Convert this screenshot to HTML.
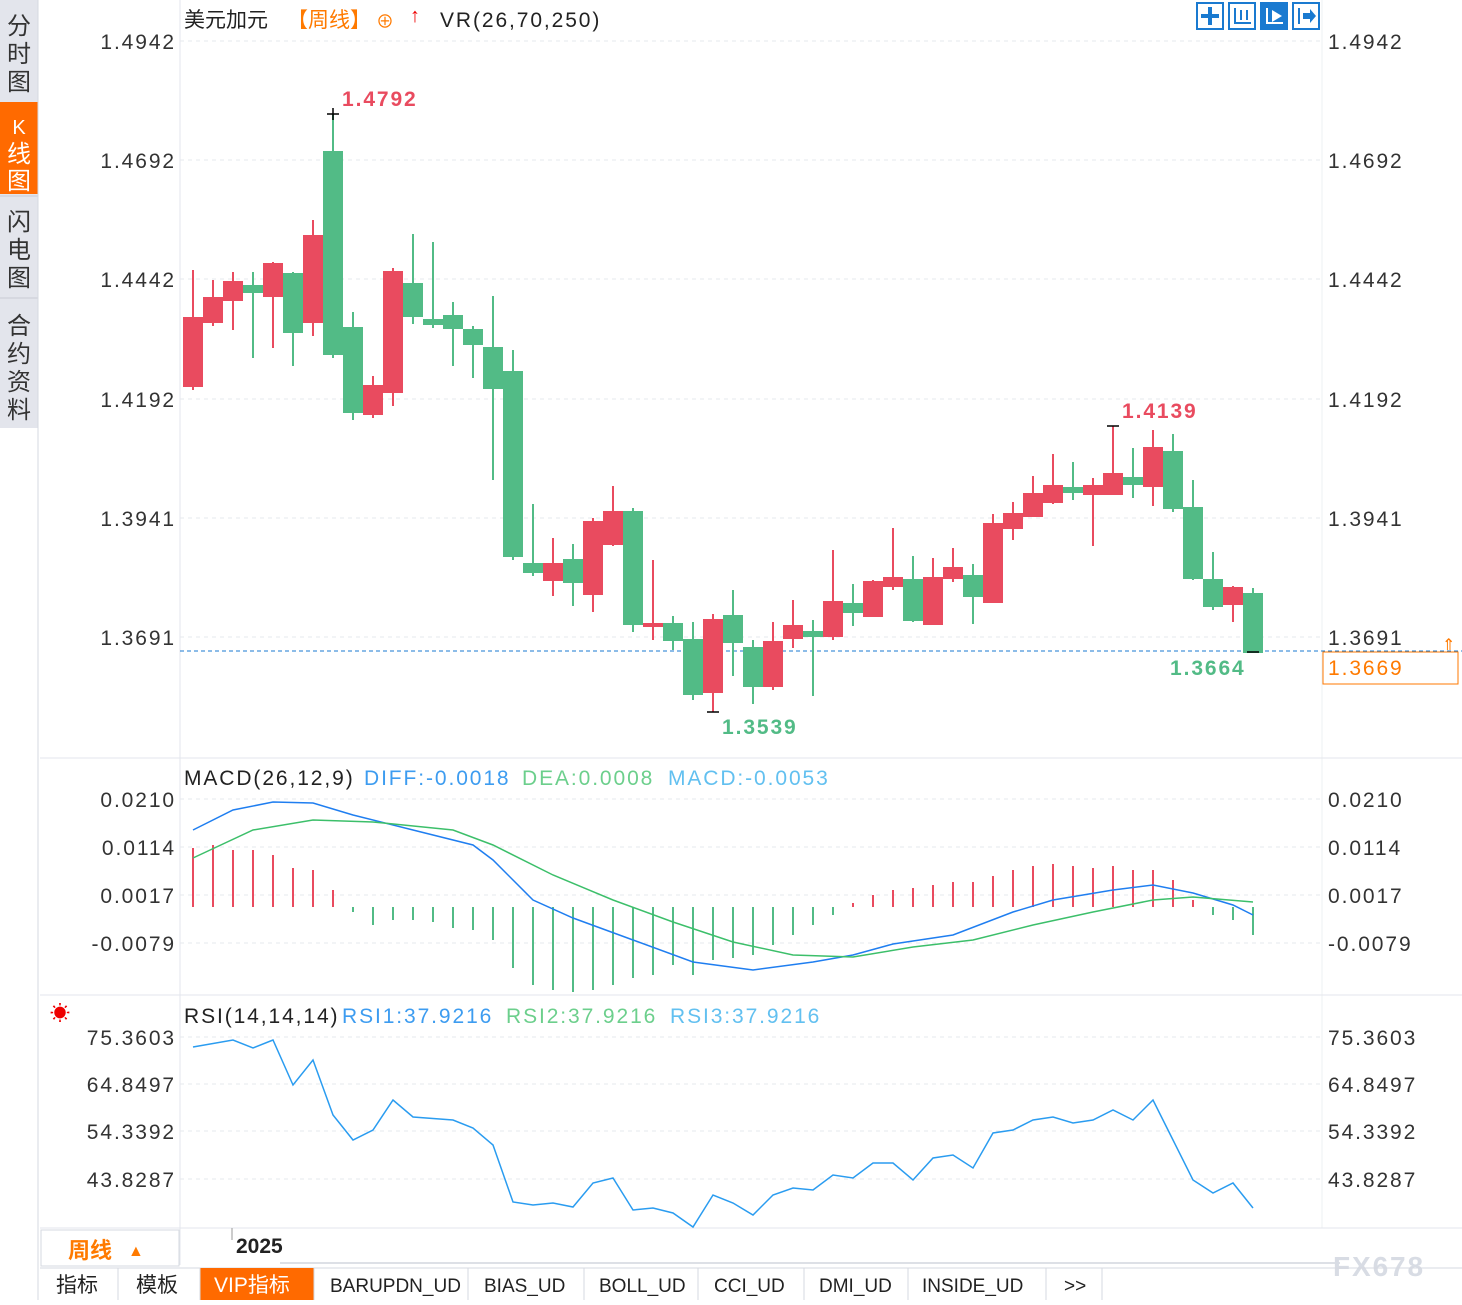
<!DOCTYPE html><html><head><meta charset="utf-8"><style>
body{margin:0;width:1462px;height:1300px;overflow:hidden;background:#fff;font-family:"Liberation Sans","Noto Sans CJK SC",sans-serif}
svg text{font-family:"Liberation Sans","Noto Sans CJK SC",sans-serif}
.ls{letter-spacing:1.9px}
</style></head><body>
<svg width="1462" height="1300" xmlns="http://www.w3.org/2000/svg">
<rect x="0" y="0" width="38" height="1300" fill="#fff"/>
<rect x="0" y="0" width="38" height="428" fill="#e3e5ec"/>
<rect x="0" y="102" width="38" height="92" fill="#ff6a00"/>
<line x1="0" y1="196" x2="38" y2="196" stroke="#c9ccd4"/><line x1="0" y1="298" x2="38" y2="298" stroke="#c9ccd4"/>
<line x1="38" y1="0" x2="38" y2="1300" stroke="#d6d9e0"/>
<g font-size="24" fill="#333" text-anchor="middle">
<text x="19" y="34">分</text><text x="19" y="62">时</text><text x="19" y="90">图</text>
<text x="19" y="134" fill="#fff" font-size="20">K</text><text x="19" y="162" fill="#fff">线</text><text x="19" y="189" fill="#fff">图</text>
<text x="19" y="230">闪</text><text x="19" y="258">电</text><text x="19" y="286">图</text>
<text x="19" y="334">合</text><text x="19" y="362">约</text><text x="19" y="390">资</text><text x="19" y="418">料</text>
</g>
<line x1="180" y1="0" x2="180" y2="1265" stroke="#e3e6ec"/>
<line x1="1322" y1="0" x2="1322" y2="1228" stroke="#eef0f3"/>
<line x1="40" y1="758" x2="1462" y2="758" stroke="#e3e6ec"/>
<line x1="40" y1="995" x2="1462" y2="995" stroke="#e3e6ec"/>
<line x1="40" y1="1228" x2="1462" y2="1228" stroke="#e3e6ec"/>
<g stroke="#e6e8ec" stroke-dasharray="4,4">
<line x1="180" y1="41" x2="1322" y2="41"/><line x1="180" y1="160" x2="1322" y2="160"/><line x1="180" y1="279" x2="1322" y2="279"/><line x1="180" y1="399" x2="1322" y2="399"/><line x1="180" y1="518" x2="1322" y2="518"/><line x1="180" y1="637" x2="1322" y2="637"/>
<line x1="180" y1="799" x2="1322" y2="799"/><line x1="180" y1="847" x2="1322" y2="847"/><line x1="180" y1="895" x2="1322" y2="895"/><line x1="180" y1="943" x2="1322" y2="943"/>
<line x1="180" y1="1037" x2="1322" y2="1037"/><line x1="180" y1="1084" x2="1322" y2="1084"/><line x1="180" y1="1131" x2="1322" y2="1131"/><line x1="180" y1="1179" x2="1322" y2="1179"/>
</g>
<text x="184" y="27" font-size="21" fill="#222">美元加元</text>
<text x="287" y="27" font-size="21" fill="#ff7a00">【周线】</text>
<text x="376" y="28" font-size="18" fill="#ff7a00">⊕</text>
<text x="410" y="22" font-size="20" fill="#e00" font-weight="bold">↑</text>
<text x="440" y="27" font-size="21" fill="#222" class="ls">VR(26,70,250)</text>
<g fill="#fff" stroke="#1a7ad0" stroke-width="2">
<rect x="1197" y="3" width="26" height="26"/><rect x="1229" y="3" width="26" height="26"/><rect x="1261" y="3" width="26" height="26" fill="#1a7ad0"/><rect x="1293" y="3" width="26" height="26"/>
</g>
<g fill="#1a7ad0"><rect x="1201" y="14" width="18" height="4"/><rect x="1208" y="7" width="4" height="18"/>
<rect x="1234" y="8" width="2" height="16"/><rect x="1234" y="22" width="17" height="2"/><rect x="1240" y="10" width="2" height="10"/><rect x="1246" y="10" width="2" height="10"/>
<rect x="1298" y="8" width="2" height="16"/><polygon points="1303,13 1310,13 1310,9 1316,16 1310,23 1310,19 1303,19"/></g>
<g fill="#fff"><rect x="1266" y="8" width="2" height="16"/><rect x="1266" y="22" width="17" height="2"/><polygon points="1272,10 1282,16 1272,22"/></g>
<g font-size="21" fill="#333" text-anchor="end" class="ls">
<text x="176" y="49">1.4942</text><text x="176" y="168">1.4692</text><text x="176" y="287">1.4442</text><text x="176" y="407">1.4192</text><text x="176" y="526">1.3941</text><text x="176" y="645">1.3691</text>
<text x="176" y="807">0.0210</text><text x="176" y="855">0.0114</text><text x="176" y="903">0.0017</text><text x="176" y="951">-0.0079</text>
<text x="176" y="1045">75.3603</text><text x="176" y="1092">64.8497</text><text x="176" y="1139">54.3392</text><text x="176" y="1187">43.8287</text>
</g>
<g font-size="21" fill="#333" class="ls">
<text x="1328" y="49">1.4942</text><text x="1328" y="168">1.4692</text><text x="1328" y="287">1.4442</text><text x="1328" y="407">1.4192</text><text x="1328" y="526">1.3941</text><text x="1328" y="645">1.3691</text>
<text x="1328" y="807">0.0210</text><text x="1328" y="855">0.0114</text><text x="1328" y="903">0.0017</text><text x="1328" y="951">-0.0079</text>
<text x="1328" y="1045">75.3603</text><text x="1328" y="1092">64.8497</text><text x="1328" y="1139">54.3392</text><text x="1328" y="1187">43.8287</text>
</g>
<line x1="180" y1="651" x2="1462" y2="651" stroke="#1a7ad0" stroke-dasharray="4,3"/>
<rect x="1323" y="652" width="135" height="32" fill="#fff" stroke="#ff7a00"/>
<text x="1328" y="675" font-size="21" fill="#ff7a00" class="ls">1.3669</text>
<text x="1442" y="650" font-size="16" fill="#ff7a00">⇑</text>
<g stroke-width="2">
<g stroke="#e94b5f" fill="#e94b5f">
<line x1="193" y1="270" x2="193" y2="390"/><rect x="184" y="318" width="18" height="68"/>
<line x1="213" y1="280" x2="213" y2="326"/><rect x="204" y="298" width="18" height="24"/>
<line x1="233" y1="272" x2="233" y2="330"/><rect x="224" y="282" width="18" height="18"/>
<line x1="273" y1="262" x2="273" y2="348"/><rect x="264" y="264" width="18" height="32"/>
<line x1="313" y1="220" x2="313" y2="336"/><rect x="304" y="236" width="18" height="86"/>
<line x1="373" y1="376" x2="373" y2="418"/><rect x="364" y="386" width="18" height="28"/>
<line x1="393" y1="268" x2="393" y2="406"/><rect x="384" y="272" width="18" height="120"/>
<line x1="553" y1="538" x2="553" y2="596"/><rect x="544" y="564" width="18" height="16"/>
<line x1="593" y1="518" x2="593" y2="612"/><rect x="584" y="522" width="18" height="72"/>
<line x1="613" y1="486" x2="613" y2="546"/><rect x="604" y="512" width="18" height="32"/>
<line x1="653" y1="560" x2="653" y2="640"/><rect x="644" y="624" width="18" height="2"/>
<line x1="713" y1="614" x2="713" y2="712"/><rect x="704" y="620" width="18" height="72"/>
<line x1="773" y1="622" x2="773" y2="690"/><rect x="764" y="642" width="18" height="44"/>
<line x1="793" y1="600" x2="793" y2="648"/><rect x="784" y="626" width="18" height="12"/>
<line x1="833" y1="550" x2="833" y2="640"/><rect x="824" y="602" width="18" height="34"/>
<line x1="873" y1="580" x2="873" y2="616"/><rect x="864" y="582" width="18" height="34"/>
<line x1="893" y1="528" x2="893" y2="590"/><rect x="884" y="578" width="18" height="8"/>
<line x1="933" y1="558" x2="933" y2="624"/><rect x="924" y="578" width="18" height="46"/>
<line x1="953" y1="548" x2="953" y2="582"/><rect x="944" y="568" width="18" height="10"/>
<line x1="993" y1="514" x2="993" y2="602"/><rect x="984" y="524" width="18" height="78"/>
<line x1="1013" y1="502" x2="1013" y2="540"/><rect x="1004" y="514" width="18" height="14"/>
<line x1="1033" y1="476" x2="1033" y2="516"/><rect x="1024" y="494" width="18" height="22"/>
<line x1="1053" y1="454" x2="1053" y2="504"/><rect x="1044" y="486" width="18" height="16"/>
<line x1="1093" y1="478" x2="1093" y2="546"/><rect x="1084" y="486" width="18" height="8"/>
<line x1="1113" y1="426" x2="1113" y2="494"/><rect x="1104" y="474" width="18" height="20"/>
<line x1="1153" y1="430" x2="1153" y2="506"/><rect x="1144" y="448" width="18" height="38"/>
<line x1="1233" y1="586" x2="1233" y2="622"/><rect x="1224" y="588" width="18" height="16"/>
</g>
<g stroke="#52bb86" fill="#52bb86">
<line x1="253" y1="272" x2="253" y2="358"/><rect x="244" y="286" width="18" height="6"/>
<line x1="293" y1="272" x2="293" y2="366"/><rect x="284" y="274" width="18" height="58"/>
<line x1="333" y1="114" x2="333" y2="358"/><rect x="324" y="152" width="18" height="202"/>
<line x1="353" y1="312" x2="353" y2="420"/><rect x="344" y="328" width="18" height="84"/>
<line x1="413" y1="234" x2="413" y2="324"/><rect x="404" y="284" width="18" height="32"/>
<line x1="433" y1="242" x2="433" y2="328"/><rect x="424" y="320" width="18" height="4"/>
<line x1="453" y1="302" x2="453" y2="366"/><rect x="444" y="316" width="18" height="12"/>
<line x1="473" y1="326" x2="473" y2="378"/><rect x="464" y="330" width="18" height="14"/>
<line x1="493" y1="296" x2="493" y2="480"/><rect x="484" y="348" width="18" height="40"/>
<line x1="513" y1="350" x2="513" y2="560"/><rect x="504" y="372" width="18" height="184"/>
<line x1="533" y1="504" x2="533" y2="576"/><rect x="524" y="564" width="18" height="8"/>
<line x1="573" y1="544" x2="573" y2="606"/><rect x="564" y="560" width="18" height="22"/>
<line x1="633" y1="508" x2="633" y2="632"/><rect x="624" y="512" width="18" height="112"/>
<line x1="673" y1="616" x2="673" y2="650"/><rect x="664" y="624" width="18" height="16"/>
<line x1="693" y1="622" x2="693" y2="700"/><rect x="684" y="640" width="18" height="54"/>
<line x1="733" y1="590" x2="733" y2="676"/><rect x="724" y="616" width="18" height="26"/>
<line x1="753" y1="640" x2="753" y2="704"/><rect x="744" y="648" width="18" height="38"/>
<line x1="813" y1="620" x2="813" y2="696"/><rect x="804" y="632" width="18" height="4"/>
<line x1="853" y1="584" x2="853" y2="626"/><rect x="844" y="604" width="18" height="8"/>
<line x1="913" y1="556" x2="913" y2="622"/><rect x="904" y="580" width="18" height="40"/>
<line x1="973" y1="564" x2="973" y2="624"/><rect x="964" y="576" width="18" height="20"/>
<line x1="1073" y1="462" x2="1073" y2="500"/><rect x="1064" y="488" width="18" height="4"/>
<line x1="1133" y1="448" x2="1133" y2="498"/><rect x="1124" y="478" width="18" height="6"/>
<line x1="1173" y1="434" x2="1173" y2="512"/><rect x="1164" y="452" width="18" height="56"/>
<line x1="1193" y1="480" x2="1193" y2="580"/><rect x="1184" y="508" width="18" height="70"/>
<line x1="1213" y1="552" x2="1213" y2="610"/><rect x="1204" y="580" width="18" height="26"/>
<line x1="1253" y1="588" x2="1253" y2="652"/><rect x="1244" y="594" width="18" height="58"/>
</g>
</g>
<g stroke="#000" stroke-width="1.5"><line x1="327" y1="114" x2="339" y2="114"/><line x1="333" y1="108" x2="333" y2="120"/><line x1="707" y1="712" x2="719" y2="712"/><line x1="1107" y1="426" x2="1119" y2="426"/><line x1="1247" y1="652" x2="1259" y2="652"/></g>
<g font-size="21" font-weight="bold" class="ls">
<text x="342" y="106" fill="#e94b5f">1.4792</text>
<text x="1122" y="418" fill="#e94b5f">1.4139</text>
<text x="722" y="734" fill="#52bb86">1.3539</text>
<text x="1170" y="675" fill="#52bb86">1.3664</text>
</g>
<g font-size="21" class="ls">
<text x="184" y="785" fill="#222">MACD(26,12,9)</text>
<text x="364" y="785" fill="#3d9cf0">DIFF:-0.0018</text>
<text x="522" y="785" fill="#6ccf8c">DEA:0.0008</text>
<text x="668" y="785" fill="#62c0f0">MACD:-0.0053</text>
</g>
<g stroke-width="2">
<g stroke="#e94b5f">
<line x1="193" y1="907" x2="193" y2="848"/><line x1="213" y1="907" x2="213" y2="845"/><line x1="233" y1="907" x2="233" y2="850"/><line x1="253" y1="907" x2="253" y2="850"/><line x1="273" y1="907" x2="273" y2="855"/><line x1="293" y1="907" x2="293" y2="868"/><line x1="313" y1="907" x2="313" y2="870"/><line x1="333" y1="907" x2="333" y2="890"/>
<line x1="873" y1="907" x2="873" y2="895"/><line x1="893" y1="907" x2="893" y2="890"/><line x1="913" y1="907" x2="913" y2="888"/><line x1="933" y1="907" x2="933" y2="885"/><line x1="953" y1="907" x2="953" y2="882"/><line x1="973" y1="907" x2="973" y2="882"/><line x1="993" y1="907" x2="993" y2="876"/><line x1="1013" y1="907" x2="1013" y2="870"/><line x1="1033" y1="907" x2="1033" y2="866"/><line x1="1053" y1="907" x2="1053" y2="864"/><line x1="1073" y1="907" x2="1073" y2="866"/><line x1="1093" y1="907" x2="1093" y2="868"/><line x1="1113" y1="907" x2="1113" y2="866"/><line x1="1133" y1="907" x2="1133" y2="870"/><line x1="1153" y1="907" x2="1153" y2="870"/><line x1="1173" y1="907" x2="1173" y2="880"/><line x1="1193" y1="907" x2="1193" y2="900"/><line x1="853" y1="907" x2="853" y2="903"/>
</g>
<g stroke="#52bb86">
<line x1="353" y1="907" x2="353" y2="912"/><line x1="373" y1="907" x2="373" y2="925"/><line x1="393" y1="907" x2="393" y2="920"/><line x1="413" y1="907" x2="413" y2="920"/><line x1="433" y1="907" x2="433" y2="922"/><line x1="453" y1="907" x2="453" y2="928"/><line x1="473" y1="907" x2="473" y2="930"/><line x1="493" y1="907" x2="493" y2="940"/><line x1="513" y1="907" x2="513" y2="968"/><line x1="533" y1="907" x2="533" y2="985"/><line x1="553" y1="907" x2="553" y2="990"/><line x1="573" y1="907" x2="573" y2="992"/><line x1="593" y1="907" x2="593" y2="990"/><line x1="613" y1="907" x2="613" y2="985"/><line x1="633" y1="907" x2="633" y2="978"/><line x1="653" y1="907" x2="653" y2="975"/><line x1="673" y1="907" x2="673" y2="965"/><line x1="693" y1="907" x2="693" y2="975"/><line x1="713" y1="907" x2="713" y2="960"/><line x1="733" y1="907" x2="733" y2="958"/><line x1="753" y1="907" x2="753" y2="955"/><line x1="773" y1="907" x2="773" y2="945"/><line x1="793" y1="907" x2="793" y2="935"/><line x1="813" y1="907" x2="813" y2="925"/><line x1="833" y1="907" x2="833" y2="915"/><line x1="1213" y1="907" x2="1213" y2="915"/><line x1="1233" y1="907" x2="1233" y2="920"/><line x1="1253" y1="907" x2="1253" y2="935"/>
</g>
</g>
<polyline fill="none" stroke="#1f7ef0" stroke-width="1.5" points="193,830 233,810 273,802 313,803 353,815 413,830 473,845 493,860 533,900 573,918 633,940 693,962 753,970 813,962 853,955 893,944 953,935 1013,912 1053,900 1113,890 1153,885 1193,893 1233,905 1253,915"/>
<polyline fill="none" stroke="#3cbf6a" stroke-width="1.5" points="193,858 253,830 313,820 373,822 453,830 493,845 553,875 613,900 673,922 733,942 793,955 853,957 913,947 973,940 1033,925 1093,912 1153,900 1193,897 1253,902"/>
<text x="50" y="1020" font-size="20" fill="#e00">☀</text>
<g font-size="21" class="ls">
<text x="184" y="1023" fill="#222">RSI(14,14,14)</text>
<text x="342" y="1023" fill="#3d9cf0">RSI1:37.9216</text>
<text x="506" y="1023" fill="#6ccf8c">RSI2:37.9216</text>
<text x="670" y="1023" fill="#62c0f0">RSI3:37.9216</text>
</g>
<polyline fill="none" stroke="#2a9cf0" stroke-width="1.5" points="193,1047 233,1040 253,1048 273,1040 293,1085 313,1060 333,1115 353,1140 373,1130 393,1100 413,1117 453,1120 473,1128 493,1145 513,1202 533,1205 553,1203 573,1207 593,1183 613,1178 633,1210 653,1208 673,1213 693,1227 713,1195 733,1203 753,1215 773,1195 793,1188 813,1190 833,1175 853,1178 873,1163 893,1163 913,1180 933,1158 953,1155 973,1168 993,1133 1013,1130 1033,1120 1053,1117 1073,1123 1093,1120 1113,1110 1133,1120 1153,1100 1173,1140 1193,1180 1213,1193 1233,1183 1253,1208"/>
<rect x="41" y="1230" width="138" height="36" fill="#fff" stroke="#d6d9e0"/>
<text x="68" y="1258" font-size="22" fill="#ff7a00" font-weight="bold">周线</text><text x="128" y="1256" font-size="16" fill="#ff7a00">▲</text>
<line x1="232" y1="1228" x2="232" y2="1240" stroke="#999"/>
<text x="236" y="1253" font-size="21" fill="#222" font-weight="bold">2025</text>
<line x1="280" y1="1263" x2="1340" y2="1263" stroke="#dde0e6" stroke-width="2"/>
<text x="1333" y="1276" font-size="28" fill="#d8dce4" font-weight="bold" class="ls">FX678</text>
<line x1="40" y1="1268" x2="1462" y2="1268" stroke="#d6d9e0"/>
<rect x="200" y="1268" width="114" height="32" fill="#ff6a00"/>
<g stroke="#d6d9e0"><line x1="118" y1="1268" x2="118" y2="1300"/><line x1="200" y1="1268" x2="200" y2="1300"/><line x1="314" y1="1268" x2="314" y2="1300"/><line x1="468" y1="1268" x2="468" y2="1300"/><line x1="584" y1="1268" x2="584" y2="1300"/><line x1="698" y1="1268" x2="698" y2="1300"/><line x1="804" y1="1268" x2="804" y2="1300"/><line x1="908" y1="1268" x2="908" y2="1300"/><line x1="1046" y1="1268" x2="1046" y2="1300"/><line x1="1102" y1="1268" x2="1102" y2="1300"/></g>
<g font-size="21" fill="#222" font-family="Liberation Mono,monospace">
<text x="56" y="1292">指标</text><text x="136" y="1292">模板</text><text x="214" y="1292" fill="#fff">VIP指标</text>
<text x="330" y="1292" font-size="19">BARUPDN_UD</text><text x="484" y="1292" font-size="19">BIAS_UD</text><text x="599" y="1292" font-size="19">BOLL_UD</text><text x="714" y="1292" font-size="19">CCI_UD</text><text x="819" y="1292" font-size="19">DMI_UD</text><text x="922" y="1292" font-size="19">INSIDE_UD</text><text x="1064" y="1292" font-size="19">&gt;&gt;</text>
</g>
</svg>
</body></html>
